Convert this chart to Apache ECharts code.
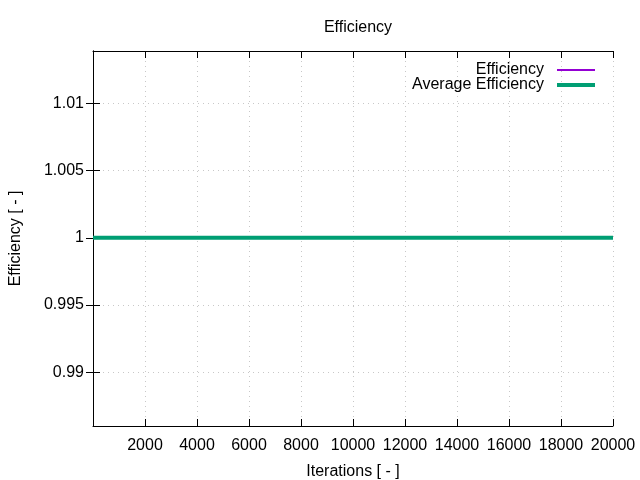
<!DOCTYPE html>
<html lang="en">
<head>
    <meta charset="utf-8">
    <script src="https://cdn.jsdelivr.net/npm/echarts@6/dist/echarts.min.js"></script>
</head>
<body style="margin:0">
    <div id="main" style="width:640px;height:480px;"></div>
    <script type="text/javascript">
    // data: both series sit flat at 1
    var iterations = [0, 1000, 2000, 3000, 4000, 5000, 6000, 7000, 8000, 9000, 10000,
        11000, 12000, 13000, 14000, 15000, 16000, 17000, 18000, 19000, 20000];
    var efficiency = [1, 1, 1, 1, 1, 1, 1, 1, 1, 1, 1, 1, 1, 1, 1, 1, 1, 1, 1, 1, 1];
    var avgEfficiency = [1, 1, 1, 1, 1, 1, 1, 1, 1, 1, 1, 1, 1, 1, 1, 1, 1, 1, 1, 1, 1];
    var yTicks = [0.99, 0.995, 1, 1.005, 1.01];

    function pairs(xs, ys) {
        return xs.map(function (x, i) { return [x, ys[i]]; });
    }

    var font = 'Liberation Sans, Arial, sans-serif';
    var grid = { color: '#c8c8c8', type: [1, 4], width: 1 };
    var tick = { inside: true, length: 7, lineStyle: { color: '#000', width: 1 } };
    var yTick = { inside: true, length: 7, customValues: yTicks, lineStyle: { color: '#000', width: 1 } };

    var myChart = echarts.init(document.getElementById('main'));
    myChart.setOption({
        animation: false,
        backgroundColor: '#fff',
        title: {
            text: 'Efficiency',
            left: 353, top: 15, textAlign: 'center',
            textStyle: { fontFamily: font, fontSize: 16, fontWeight: 'normal', color: '#000' }
        },
        // two legends so each sample gets its own line thickness
        legend: [{
            orient: 'vertical', right: 40, top: 57, align: 'right',
            itemWidth: 38, itemHeight: 2,
            textStyle: { fontFamily: font, fontSize: 16, color: '#000', padding: [0, 8, 0, 0] },
            data: [{ name: 'Efficiency', icon: 'rect', itemStyle: { color: '#9400d3' } }]
        }, {
            orient: 'vertical', right: 40, top: 72, align: 'right',
            itemWidth: 38, itemHeight: 4,
            textStyle: { fontFamily: font, fontSize: 16, color: '#000', padding: [0, 8, 0, 0] },
            data: [{ name: 'Average Efficiency', icon: 'rect', itemStyle: { color: '#009e73' } }]
        }],
        grid: { left: 93, right: 27, top: 51, bottom: 54, outerBoundsMode: 'none' },
        xAxis: [{
            type: 'value', min: 0, max: 20000, interval: 2000,
            name: 'Iterations [ - ]', nameLocation: 'middle', nameGap: 38,
            nameTextStyle: { fontFamily: font, fontSize: 16, color: '#000' },
            axisLine: { lineStyle: { color: '#000', width: 1 } },
            axisTick: tick,
            axisLabel: {
                showMinLabel: false, fontFamily: font, fontSize: 16, color: '#000', margin: 12,
                formatter: function (v) { return String(v); }
            },
            splitLine: { show: true, lineStyle: grid }
        }, {
            type: 'value', position: 'top', min: 0, max: 20000, interval: 2000,
            axisLine: { show: true, lineStyle: { color: '#000', width: 1 } },
            axisTick: tick,
            axisLabel: { show: false },
            splitLine: { show: false }
        }],
        yAxis: [{
            type: 'value', min: 0.986, max: 1.0139,
            name: 'Efficiency [ - ]', nameLocation: 'middle', nameGap: 69,
            nameTextStyle: { fontFamily: font, fontSize: 16, color: '#000' },
            axisLine: { show: true, lineStyle: { color: '#000', width: 1 } },
            axisTick: yTick,
            axisLabel: {
                customValues: yTicks, fontFamily: font, fontSize: 16, color: '#000', margin: 9,
                formatter: function (v) { return String(+(+v).toFixed(3)); }
            },
            splitLine: { show: true, lineStyle: grid }
        }, {
            type: 'value', position: 'right', min: 0.986, max: 1.0139,
            axisLine: { show: true, lineStyle: { color: '#000', width: 1 } },
            axisTick: yTick,
            axisLabel: { show: false },
            splitLine: { show: false }
        }],
        series: [{
            name: 'Efficiency', type: 'line', showSymbol: false,
            data: pairs(iterations, efficiency),
            itemStyle: { color: '#9400d3' },
            lineStyle: { color: '#9400d3', width: 2 }
        }, {
            name: 'Average Efficiency', type: 'line', showSymbol: false,
            data: pairs(iterations, avgEfficiency),
            itemStyle: { color: '#009e73' },
            lineStyle: { color: '#009e73', width: 4 }
        }]
    });
    </script>
</body>
</html>
